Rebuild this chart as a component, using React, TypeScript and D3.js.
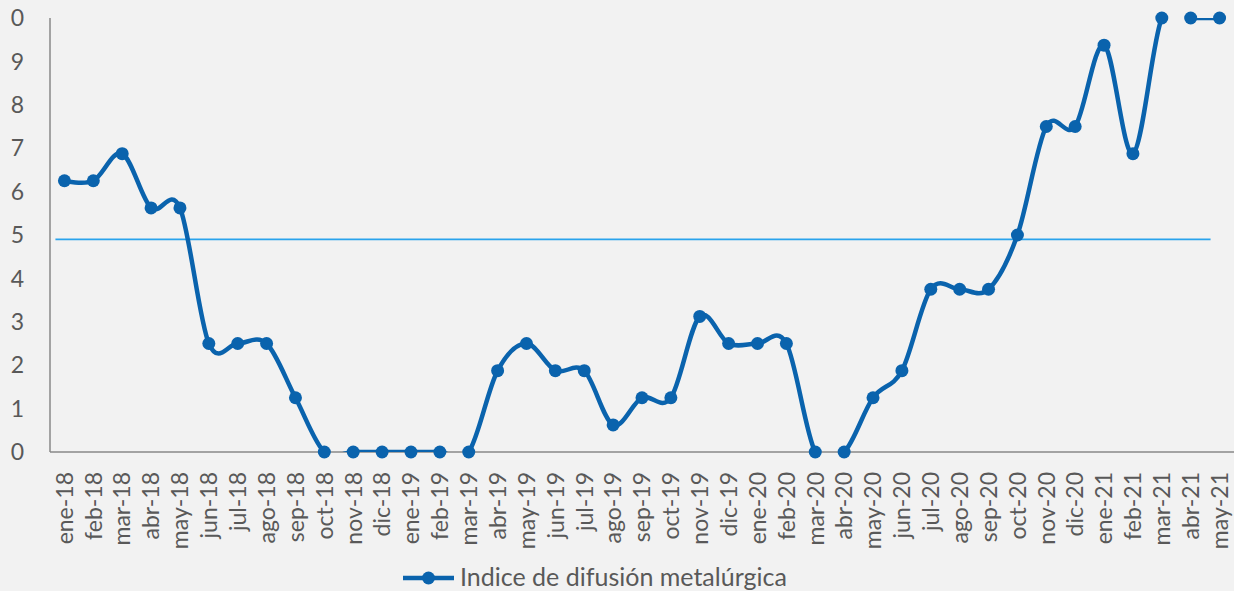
import React from "react";
import * as d3 from "d3";

const months = [
  "ene-18", "feb-18", "mar-18", "abr-18", "may-18", "jun-18", "jul-18", "ago-18", "sep-18", "oct-18",
  "nov-18", "dic-18", "ene-19", "feb-19", "mar-19", "abr-19", "may-19", "jun-19", "jul-19", "ago-19",
  "sep-19", "oct-19", "nov-19", "dic-19", "ene-20", "feb-20", "mar-20", "abr-20", "may-20", "jun-20",
  "jul-20", "ago-20", "sep-20", "oct-20", "nov-20", "dic-20", "ene-21", "feb-21", "mar-21", "abr-21",
  "may-21",
];

const indice = [
  6.25, 6.25, 6.875, 5.625, 5.625, 2.5, 2.5, 2.5, 1.25, 0,
  0, 0, 0, 0, 0, 1.875, 2.5, 1.875, 1.875, 0.625,
  1.25, 1.25, 3.125, 2.5, 2.5, 2.5, 0, 0, 1.25, 1.875,
  3.75, 3.75, 3.75, 5, 7.5, 7.5, 9.375, 6.875, 10, 10,
  10,
];

const referencia = 4.9;

const yTicks = [0, 1, 2, 3, 4, 5, 6, 7, 8, 9, 10];
const yTickLabels = ["0", "1", "2", "3", "4", "5", "6", "7", "8", "9", "0"];

const legendLabel = "Indice de difusión metalúrgica";

const W = 1234;
const H = 591;
const FONT = "Lato, 'Open Sans', sans-serif";
const TEXT = "#595959";
const BLUE = "#0a63ad";

export default function App() {
  const left = 50;
  const top = 18;
  const bottom = 452;

  const x = d3.scaleBand().domain(months).range([left, W]).padding(0);
  const y = d3.scaleLinear().domain([0, 10]).range([bottom, top]);
  const cx = (m: string) => (x(m) ?? 0) + x.bandwidth() / 2;

  // Excel-style smoothed line
  const line = d3
    .line<number>()
    .x((d, i) => cx(months[i]))
    .y((d) => y(d))
    .curve(d3.curveCardinal.tension(0));

  const refX1 = cx(months[0]) - 9;
  const refX2 = cx(months[months.length - 1]) - 9;

  return (
    <svg
      width={W}
      height={H}
      style={{ position: "absolute", left: 0, top: 0, display: "block" }}
      fontFamily={FONT}
    >
      <defs>
        <clipPath id="plot">
          <rect x={left} y={y(10)} width={W - left} height={y(0) - y(10)} />
        </clipPath>
      </defs>
      <rect width={W} height={H} fill="#f2f2f2" />

      {/* y labels */}
      {yTicks.map((t, i) => (
        <text key={i} x={24} y={y(t)} dy="0.36em" textAnchor="end" fontSize={23} fill={TEXT}>
          {yTickLabels[i]}
        </text>
      ))}

      {/* x labels */}
      {months.map((m) => (
        <text
          key={m}
          transform={`translate(${cx(m)},${bottom + 20}) rotate(-90)`}
          dy="0.36em"
          textAnchor="end"
          fontSize={23}
          fill={TEXT}
        >
          {m}
        </text>
      ))}

      {/* axes */}
      <line x1={left} x2={left} y1={top} y2={bottom} stroke="#898989" strokeWidth={1.5} />
      <line x1={left} x2={W} y1={bottom} y2={bottom} stroke="#898989" strokeWidth={1.5} />

      {/* reference line */}
      <line x1={refX1} x2={refX2} y1={y(referencia)} y2={y(referencia)} stroke="#2aa3ec" strokeWidth={1.6} />

      {/* series */}
      <path d={line(indice) ?? ""} fill="none" stroke={BLUE} strokeWidth={4.5} clipPath="url(#plot)" />
      {indice.map((v, i) => (
        <circle key={i} cx={cx(months[i])} cy={y(v)} r={6.5} fill={BLUE} />
      ))}

      {/* legend */}
      <line x1={403} x2={454} y1={578} y2={578} stroke={BLUE} strokeWidth={4.5} />
      <circle cx={428.5} cy={578} r={6.5} fill={BLUE} />
      <text x={460} y={586} fontSize={25} fill={TEXT}>
        {legendLabel}
      </text>
    </svg>
  );
}
